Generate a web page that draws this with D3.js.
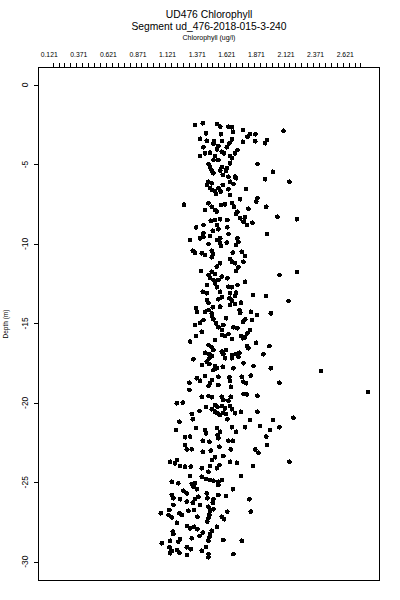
<!DOCTYPE html>
<meta charset="utf-8">
<title>UD476 Chlorophyll</title>
<style>
  body { margin: 0; background: #fff; }
  text { font-family: "Liberation Sans", Arial, Helvetica, sans-serif; fill: #000; }
</style>
<body>
<div id="chart"></div>

<script src="https://d3js.org/d3.v7.min.js"></script>
<script>

// titles and axis text
const titleLines = ["UD476 Chlorophyll", "Segment ud_476-2018-015-3-240"];
const xTitle = "Chlorophyll (ug/l)";
const yTitle = "Depth (m)";

// tick values
const xTickLabels = [0.121, 0.371, 0.621, 0.871, 1.121, 1.371, 1.621, 1.871, 2.121, 2.371, 2.621];
const yTicks = [0, -5, -10, -15, -20, -25, -30];

// [chlorophyll ug/l, depth m]
const samples = [
  [1.354,-2.52],[1.418,-2.41],[1.537,-2.45],[1.565,-2.62],[1.635,-2.62],[1.664,-2.66],[1.757,-2.83],[1.675,-2.94],
  [2.100,-2.88],[1.446,-3.04],[1.571,-3.10],[1.818,-3.08],[1.863,-3.10],[1.795,-3.25],[1.396,-3.38],[1.452,-3.51],
  [1.514,-3.54],[1.579,-3.52],[1.664,-3.42],[1.757,-3.57],[1.861,-3.54],[1.959,-3.46],[1.945,-3.67],[1.508,-3.71],
  [1.550,-3.84],[1.643,-3.67],[1.621,-3.92],[1.424,-3.92],[1.537,-4.05],[1.579,-4.20],[1.598,-4.30],[1.711,-4.09],
  [1.691,-4.30],[1.438,-4.30],[1.396,-4.47],[1.480,-4.26],[1.522,-4.47],[1.550,-4.72],[1.649,-4.47],[1.664,-4.61],
  [1.508,-4.72],[1.880,-4.97],[1.466,-4.97],[1.480,-5.18],[1.494,-5.39],[1.508,-5.56],[1.579,-5.18],[1.615,-5.39],
  [1.649,-4.93],[1.621,-5.24],[1.565,-5.39],[2.010,-5.46],[1.587,-5.66],[1.635,-5.77],[1.691,-5.77],[1.945,-5.93],
  [2.150,-6.09],[1.466,-6.09],[1.494,-6.19],[1.649,-6.09],[1.677,-6.23],[1.700,-5.87],[1.452,-6.29],[1.480,-6.50],
  [1.494,-6.61],[1.522,-6.71],[1.550,-6.50],[1.571,-6.71],[1.635,-6.56],[1.587,-6.29],[1.784,-6.56],[1.649,-6.92],
  [1.531,-6.86],[1.260,-7.53],[1.466,-7.44],[1.494,-7.66],[1.522,-7.87],[1.537,-7.97],[1.571,-7.55],[1.607,-7.51],
  [1.664,-7.44],[1.683,-7.66],[1.734,-7.19],[1.880,-7.13],[1.869,-7.34],[1.804,-7.78],[1.954,-7.66],[1.711,-7.97],
  [1.700,-8.12],[1.438,-7.87],[2.049,-8.29],[2.213,-8.45],[1.486,-8.54],[1.522,-8.50],[1.565,-8.45],[1.626,-8.50],
  [1.734,-8.39],[1.776,-8.33],[1.762,-8.60],[1.790,-8.81],[1.362,-8.96],[1.424,-8.81],[1.537,-8.81],[1.550,-9.08],
  [1.626,-8.96],[1.838,-8.67],[1.959,-9.38],[1.396,-9.65],[1.424,-9.55],[1.480,-9.50],[1.565,-9.65],[1.635,-9.38],
  [1.711,-9.65],
  [1.424,-9.33],[1.503,-9.17],[1.311,-9.75],[1.537,-9.75],[1.565,-9.96],[1.571,-10.13],[1.621,-9.92],[1.719,-9.86],
  [1.700,-10.07],[1.466,-10.01],[1.334,-10.43],[1.353,-10.55],[1.410,-10.59],[1.438,-10.70],[1.494,-10.43],[1.503,-10.64],
  [1.494,-10.84],[1.672,-10.55],[1.748,-10.49],[1.776,-10.76],[1.649,-10.97],[1.664,-11.12],[1.691,-11.22],[1.762,-11.12],
  [1.565,-11.22],[1.537,-11.43],[1.719,-11.47],[1.700,-11.69],[1.403,-11.69],[1.494,-11.75],[1.466,-11.96],[1.480,-12.16],
  [1.508,-12.27],[1.522,-11.89],[1.579,-12.06],[1.550,-12.27],[1.626,-12.16],[2.066,-11.96],[2.213,-11.77],[1.776,-12.38],
  [1.452,-12.59],[1.522,-12.48],[1.537,-12.73],[1.635,-12.69],[1.664,-12.73],[1.711,-12.59],[1.418,-13.01],[1.452,-13.11],
  [1.565,-13.01],[1.649,-13.11],[1.700,-13.07],[1.691,-13.28],[1.841,-13.22],[1.954,-13.28],[1.452,-13.53],[1.466,-13.70],
  [1.550,-13.49],[1.579,-13.36],[1.643,-13.42],[1.664,-13.57],[2.142,-13.59],[1.565,-13.95],[1.503,-13.99],[1.691,-13.78],
  [1.740,-13.70],[1.649,-13.85],[1.362,-14.05],[1.368,-14.27],[1.438,-14.27],[1.466,-14.16],[1.494,-14.37],[1.728,-14.16],
  [1.734,-14.33],[1.824,-14.27],[1.875,-14.47],[1.993,-14.37],[1.494,-14.54],[1.508,-14.75],[1.424,-14.79],[1.396,-14.96],
  [1.353,-15.10],[1.615,-14.68],[1.776,-14.75],[1.757,-14.90],[1.833,-14.79],[1.531,-15.00],[1.550,-15.25],[1.592,-15.10],
  [1.579,-15.42],[1.677,-15.25],[1.711,-15.31],[1.818,-15.42],[1.795,-15.63],[1.410,-15.53],[1.362,-15.80],[1.579,-15.73],
  [1.607,-15.80],[1.635,-15.67],[1.740,-15.80],[1.776,-15.88],[1.757,-15.94],[1.311,-16.15],[1.522,-16.05],[1.664,-16.00],
  [1.869,-16.22],[1.466,-16.36],[1.494,-16.51],[1.508,-16.68],[1.615,-16.68],[1.579,-16.78],[1.790,-16.43],[1.804,-16.57],
  [1.981,-16.43],[1.931,-16.95],[1.438,-16.85],[1.474,-16.93],[1.494,-17.05],[1.664,-16.99],[1.700,-16.93],[1.728,-16.85],
  [1.339,-17.26],[1.474,-17.20],[1.607,-17.20],[1.664,-17.20],
  [1.592,-16.93],[1.719,-17.10],[1.410,-17.62],[1.452,-17.41],[1.474,-17.56],[1.522,-17.69],[1.537,-17.83],[1.508,-17.94],
  [1.587,-17.73],[1.677,-17.83],[1.762,-17.51],[1.846,-17.68],[1.993,-17.83],[2.418,-18.00],[1.824,-18.29],[1.438,-18.31],
  [1.494,-18.57],[1.480,-18.77],[1.466,-18.94],[1.368,-18.46],[1.396,-18.61],[1.550,-18.36],[1.643,-18.39],[1.649,-18.61],
  [1.748,-18.36],[1.762,-18.67],[1.784,-18.77],[1.305,-18.74],[1.550,-18.88],[1.655,-18.99],[2.066,-18.74],[2.813,-19.32],
  [1.305,-19.19],[1.410,-19.62],[1.466,-19.57],[1.494,-19.65],[1.579,-19.62],[1.592,-19.82],[1.655,-19.62],[1.635,-19.87],
  [1.762,-19.45],[1.790,-19.47],[1.880,-19.55],[1.199,-20.03],[1.249,-19.99],[1.522,-20.14],[1.446,-20.28],[1.494,-20.41],
  [1.542,-20.25],[1.579,-20.20],[1.607,-20.35],[1.649,-20.20],[1.664,-20.41],[1.390,-20.52],[1.522,-20.56],[1.542,-20.66],
  [1.565,-20.77],[1.592,-20.62],[1.615,-20.70],[1.691,-20.66],[1.740,-20.56],[1.325,-20.70],[1.880,-20.56],[1.221,-21.19],
  [1.334,-21.04],[1.626,-21.04],[1.818,-21.08],[2.010,-21.08],[2.184,-20.94],[1.193,-21.71],[1.362,-21.60],[1.438,-21.71],
  [1.446,-21.92],[1.537,-21.60],[1.565,-21.82],[1.542,-22.03],[1.664,-21.54],[1.700,-21.82],[1.776,-21.54],[1.903,-21.46],
  [1.987,-21.71],[2.066,-21.54],[1.269,-22.17],[1.311,-22.13],[1.418,-22.39],[1.474,-22.45],[1.550,-22.23],[1.635,-22.39],
  [1.672,-22.39],[1.954,-22.13],[1.959,-22.66],[1.269,-22.66],[1.283,-22.93],[1.325,-22.93],[1.418,-23.08],[1.486,-23.01],
  [1.559,-22.76],[1.655,-22.93],[1.861,-22.93],[1.888,-23.14],[1.592,-23.35],[1.522,-23.43],[1.142,-23.71],[1.199,-23.60],
  [1.184,-23.81],[1.227,-23.98],[1.269,-24.02],[1.317,-24.02],[1.494,-23.60],[1.480,-23.98],[1.559,-23.91],[1.649,-23.71],
  [1.706,-23.77],[1.841,-23.98],[2.150,-23.71],[1.410,-24.12],[1.466,-24.34],[1.740,-24.61],[1.311,-24.61],[1.410,-24.65],
  [1.537,-24.12],[1.156,-24.97],[1.212,-25.07],[1.325,-25.11],[1.353,-25.07],[1.339,-25.28],[1.446,-24.81],[1.480,-24.86],
  [1.508,-24.90],[1.550,-24.97],[1.579,-24.86],[1.550,-25.17],[1.254,-25.53],[1.283,-25.70],[1.368,-25.44],[1.452,-25.70],
  [1.550,-25.80],[1.615,-25.87],[1.672,-25.44],[1.156,-25.80],[1.170,-26.01],[1.227,-26.07],[1.381,-25.91],[1.353,-26.07],
  [1.334,-26.29],[1.283,-26.22],[1.457,-26.01],[1.508,-26.07],[1.503,-26.29],[1.812,-26.07],[1.170,-26.43],[1.396,-26.43],
  [1.466,-26.54],[1.508,-26.70],[1.480,-26.79],[1.345,-26.75],[1.063,-26.95],[1.136,-26.75],[1.128,-27.06],[1.156,-27.21],
  [1.221,-26.95],[1.241,-27.06],[1.297,-26.79],[1.373,-27.17],[1.474,-27.06],[1.466,-27.27],[1.457,-27.48],[1.579,-27.17],
  [1.598,-27.33],[1.626,-26.85],[1.824,-26.85],[1.199,-27.55],[1.283,-27.75],[1.311,-27.90],[1.345,-27.80],[1.373,-27.96],
  [1.165,-28.11],[1.170,-28.26],[1.418,-28.17],[1.390,-28.38],[1.494,-28.05],[1.480,-28.26],[1.474,-28.46],[1.466,-28.68],
  [1.537,-27.80],[1.227,-28.59],[1.212,-28.74],[1.142,-28.68],[1.325,-28.53],[1.072,-28.84],[1.592,-28.63],[1.748,-28.68],
  [1.136,-29.09],[1.156,-29.31],[1.199,-29.26],[1.221,-29.43],[1.283,-29.09],[1.317,-29.22],[1.283,-29.58],[1.410,-29.31],
  [1.446,-29.09],[1.466,-29.52],[1.466,-29.72],[1.677,-29.52],[1.142,-29.47]
];

// plot box (pixels)
const box = {left: 38.5, right: 379.5, top: 67.5, bottom: 580.5};

const svg = d3.select("#chart")
  .append("svg")
    .attr("width", 400)
    .attr("height", 600);

svg.append("rect")
  .attr("width", 400)
  .attr("height", 600)
  .attr("fill", "#fff");

// scales
const x = d3.scaleLinear()
  .domain([0.121, 2.621])
  .range([49.2, 345.2]);

const y = d3.scaleLinear()
  .domain([0, -30])
  .range([85, 561.7]);

// titles
svg.selectAll(".title")
  .data(titleLines)
  .join("text")
    .attr("class", "title")
    .attr("x", (box.left + box.right) / 2)
    .attr("y", (d, i) => 18 + i * 11.5)
    .attr("text-anchor", "middle")
    .style("font-size", "10.3px")
    .text(d => d);

svg.append("text")
  .attr("x", (box.left + box.right) / 2)
  .attr("y", 40)
  .attr("text-anchor", "middle")
  .attr("fill", "#000")
  .style("font-size", "7px")
  .text(xTitle);

// top axis: minor ticks every 0.05, labels at the odd offsets
const minorTicks = d3.range(0.15, 2.7501, 0.05);
const topAxis = svg.append("g")
  .attr("transform", `translate(0,${box.top})`)
  .call(d3.axisTop(x).tickValues(minorTicks).tickSize(5).tickFormat(""));
topAxis.select(".domain").remove();
topAxis.selectAll("line").attr("stroke", "#000").attr("shape-rendering", "crispEdges");

svg.selectAll(".xlab")
  .data(xTickLabels)
  .join("text")
    .attr("class", "xlab")
    .attr("x", d => x(d))
    .attr("y", 57)
    .attr("text-anchor", "middle")
    .style("font-size", "6.8px")
    .text(d => d3.format(".3f")(d));

// left axis
const leftAxis = svg.append("g")
  .attr("transform", `translate(${box.left},0)`)
  .call(d3.axisLeft(y).tickValues(yTicks).tickSize(5).tickFormat(""));
leftAxis.select(".domain").remove();
leftAxis.selectAll("line").attr("stroke", "#000").attr("shape-rendering", "crispEdges");

svg.selectAll(".ylab")
  .data(yTicks)
  .join("text")
    .attr("class", "ylab")
    .attr("transform", d => `translate(27.5,${y(d)}) rotate(-90)`)
    .attr("text-anchor", "middle")
    .style("font-size", "8.5px")
    .text(d => d);

svg.append("text")
  .attr("transform", `translate(8.3,${(box.top + box.bottom) / 2}) rotate(-90)`)
  .attr("text-anchor", "middle")
  .style("font-size", "6.5px")
  .text(yTitle);

// frame
svg.append("rect")
  .attr("x", box.left)
  .attr("y", box.top)
  .attr("width", box.right - box.left)
  .attr("height", box.bottom - box.top)
  .attr("fill", "none")
  .attr("stroke", "#000")
  .attr("shape-rendering", "crispEdges");

// points
svg.append("g")
  .selectAll("circle")
  .data(samples)
  .join("circle")
    .attr("cx", d => x(d[0]))
    .attr("cy", d => y(d[1]))
    .attr("r", 2.4)
    .attr("fill", "#000")
    .attr("shape-rendering", "crispEdges");

</script>
</body>
